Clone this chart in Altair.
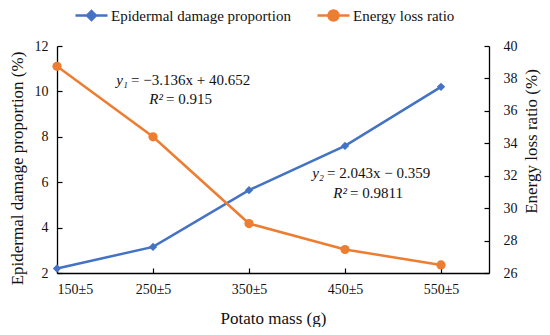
import json
import altair as alt
import pandas as pd

# ---------------- data ----------------
categories = ["150±5", "250±5", "350±5", "450±5", "550±5"]
damage = [2.2, 3.15, 5.65, 7.6, 10.2]          # Epidermal damage proportion (%)
energy = [38.75, 34.4, 29.05, 27.45, 26.5]     # Energy loss ratio (%)
series_names = ["Epidermal damage proportion", "Energy loss ratio"]
left_ticks = [2, 4, 6, 8, 10, 12]
right_ticks = [26, 28, 30, 32, 34, 36, 38, 40]
eq1 = ["y₁", "\u00a0=\u00a0−3.136x + 40.652"]
r1 = ["R²", "\u00a0=\u00a00.915"]
eq2 = ["y₂", "\u00a0=\u00a02.043x − 0.359"]
r2 = ["R²", "\u00a0=\u00a00.9811"]

BLUE = "#4472C4"
ORANGE = "#ED7D31"
FONT = "Liberation Serif"
INK = "#111111"

df = pd.DataFrame({
    "idx": list(range(len(categories))),
    "cat": categories,
    "damage": damage,
    "energy": energy,
    "s1": [series_names[0]] * len(categories),
    "s2": [series_names[1]] * len(categories),
})

label_expr = json.dumps(categories) + "[datum.value]"
inward = {"expr": "-5"}

axis_common = dict(
    grid=False, domainColor="#000", domainWidth=1.3, tickColor="#000", tickWidth=1.2,
    tickSize=inward, labelFont=FONT, labelFontSize=14, labelColor=INK,
    titleFont=FONT, titleFontWeight="normal", titleColor=INK, titleFontSize=17,
    titleAlign="center", titleBaseline="middle",
)

x_enc = alt.X("idx:Q", scale=alt.Scale(domain=[0, 4.5], nice=False, zero=False),
              axis=alt.Axis(values=list(range(len(categories))), labelExpr=label_expr,
                            title="Potato mass (g)", labelPadding=14,
                            titleX=216, titleY=45, **axis_common))

y_left = alt.Y("damage:Q", scale=alt.Scale(domain=[2, 12], nice=False, zero=False),
               axis=alt.Axis(values=left_ticks, orient="left",
                             title="Epidermal damage proportion (%)",
                             labelPadding=14, titleAngle=270,
                             titleX=-40, titleY=122, **axis_common))
y_right = alt.Y("energy:Q", scale=alt.Scale(domain=[26, 40], nice=False, zero=False),
                axis=alt.Axis(values=right_ticks, orient="right",
                              title="Energy loss ratio (%)",
                              labelPadding=19, titleAngle=270,
                              titleX=42, titleY=95, **axis_common))

diamond_path = "M-1,0L1,0M0,-0.28L0.28,0L0,0.28L-0.28,0Z"
circle_path = "M-1,0L1,0M0.31,0A0.31,0.31,0,1,1,-0.31,0A0.31,0.31,0,1,1,0.31,0Z"

def legend_for(path, color, lx):
    return alt.Legend(title=None, orient="none", legendX=lx, legendY=-48,
                      symbolType=path, symbolSize=1024, symbolStrokeWidth=2.5,
                      symbolFillColor=color, symbolStrokeColor=color,
                      labelFont=FONT, labelFontSize=15, labelColor=INK,
                      labelLimit=400, labelOffset=2, padding=0)

base = alt.Chart(df)

blue_line = base.mark_line(color=BLUE, strokeWidth=2.5).encode(x=x_enc, y=y_left)
blue_pts = base.mark_point(shape="diamond", filled=True, size=70, opacity=1).encode(
    x=x_enc, y=y_left,
    color=alt.Color("s1:N", scale=alt.Scale(domain=[series_names[0]], range=[BLUE]),
                    legend=legend_for(diamond_path, BLUE, 17)))
blue = alt.layer(blue_line, blue_pts)

orange_line = base.mark_line(color=ORANGE, strokeWidth=2.5).encode(x=x_enc, y=y_right)
orange_pts = base.mark_point(shape="circle", filled=True, size=85, opacity=1).encode(
    x=x_enc, y=y_right,
    color=alt.Color("s2:N", scale=alt.Scale(domain=[series_names[1]], range=[ORANGE]),
                    legend=legend_for(circle_path, ORANGE, 259)))
orange = alt.layer(orange_line, orange_pts)

one = pd.DataFrame({"k": [0]})

def ann(parts, ax, ay):
    it = alt.Chart(one).mark_text(font=FONT, fontSize=15, fontStyle="italic", align="right",
                                  baseline="middle", color=INK, text=parts[0]).encode(
        x=alt.value(ax), y=alt.value(ay))
    rg = alt.Chart(one).mark_text(font=FONT, fontSize=15, align="left", dx=3,
                                  baseline="middle", color=INK, text=parts[1]).encode(
        x=alt.value(ax), y=alt.value(ay))
    return [it, rg]

texts = ann(eq1, 71, 34) + ann(r1, 106, 53) + ann(eq2, 267, 127) + ann(r2, 290, 147)

chart = alt.layer(blue, orange, *texts).resolve_scale(
    y="independent", color="independent"
).properties(
    width=432, height=227,
    autosize=alt.AutoSizeParams(type="none"),
    padding={"left": 49, "top": 38, "right": 53, "bottom": 54},
).configure_view(stroke=None).configure_axis(
    labelFont=FONT, titleFont=FONT
).configure_legend(labelFont=FONT).configure_text(font=FONT)

chart.save("out.html", embed_options={"renderer": "svg", "actions": False})
